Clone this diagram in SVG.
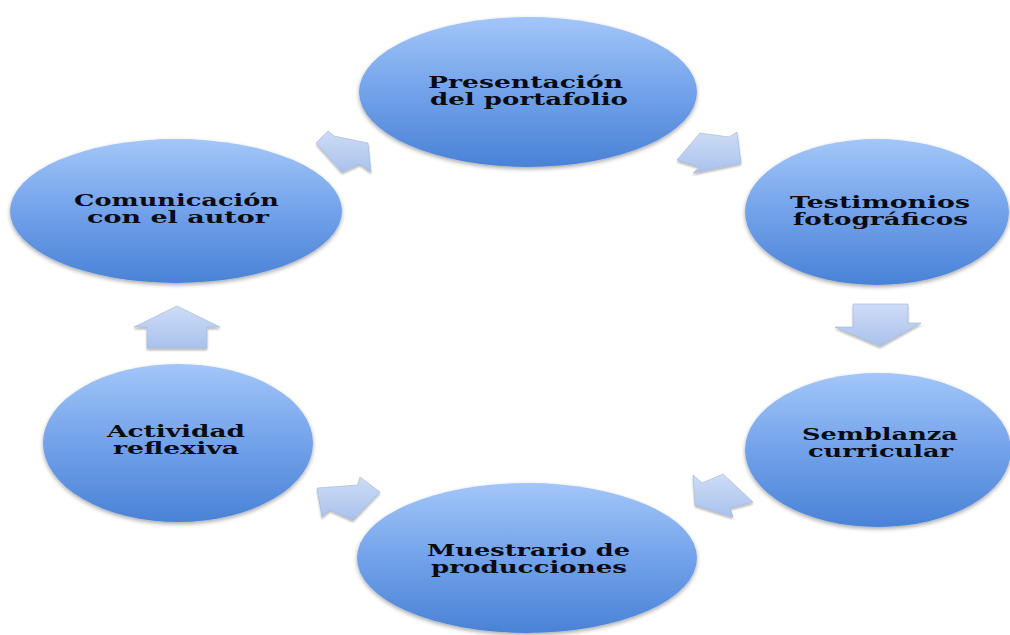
<svg xmlns="http://www.w3.org/2000/svg" width="1010" height="635" viewBox="0 0 1010 635">
<defs>
<linearGradient id="eg" x1="0" y1="0" x2="0" y2="1">
<stop offset="0" stop-color="#a3c6f8"/>
<stop offset="0.5" stop-color="#72a2ea"/>
<stop offset="1" stop-color="#4a82d6"/>
</linearGradient>
<linearGradient id="ag" x1="0" y1="0" x2="0" y2="1">
<stop offset="0" stop-color="#cddcf6"/>
<stop offset="1" stop-color="#a9c2ec"/>
</linearGradient>
<filter id="sh" x="-10%" y="-10%" width="120%" height="125%">
<feGaussianBlur in="SourceAlpha" stdDeviation="2"/>
<feOffset dy="2" result="b"/>
<feComponentTransfer><feFuncA type="linear" slope="0.35"/></feComponentTransfer>
<feMerge><feMergeNode/><feMergeNode in="SourceGraphic"/></feMerge>
</filter>
<filter id="ash" x="-20%" y="-20%" width="140%" height="150%">
<feGaussianBlur in="SourceAlpha" stdDeviation="1.2"/>
<feOffset dy="1.5"/>
<feComponentTransfer><feFuncA type="linear" slope="0.3"/></feComponentTransfer>
<feMerge><feMergeNode/><feMergeNode in="SourceGraphic"/></feMerge>
</filter>
</defs>
<style>
.node{fill:url(#eg);filter:url(#sh)}
.lbl{font-family:"DejaVu Serif","Liberation Serif",serif;font-weight:bold;font-size:17px;fill:#0b0b14}
.arr{fill:url(#ag);stroke:#9fb4da;stroke-width:0.6;filter:url(#ash)}
</style>
<rect width="1010" height="635" fill="#ffffff"/>
<g id="connectors">
<polygon class="arr" points="316,143 328,131 334,136 368,143 371,172 360,164 342,172"/>
<polygon class="arr" points="677,160 700,133 729,137 737,132 741,163 693,173 700,167"/>
<polygon class="arr" points="853,304 908,304 908,323 921,323 880,346 835,327 853,327"/>
<polygon class="arr" points="693,475 702,483 723,474 753,502 730,508 733,517 695,505"/>
<polygon class="arr" points="317,488 358,485 360,477 380,492 353,520 330,510 322,517"/>
<polygon class="arr" points="177,306 220,327 207,327 207,348 147,348 147,327 134,327"/>
</g>
<g id="n1">
<ellipse class="node" cx="528" cy="92" rx="169" ry="75"/>
<text class="lbl" x="428" y="88" textLength="195" lengthAdjust="spacingAndGlyphs">Presentación</text>
<text class="lbl" x="430" y="105" textLength="198" lengthAdjust="spacingAndGlyphs">del portafolio</text>
</g>
<g id="n2">
<ellipse class="node" cx="877" cy="212" rx="132" ry="73"/>
<text class="lbl" x="790" y="208" textLength="180" lengthAdjust="spacingAndGlyphs">Testimonios</text>
<text class="lbl" x="793" y="225" textLength="175" lengthAdjust="spacingAndGlyphs">fotográficos</text>
</g>
<g id="n3">
<ellipse class="node" cx="878" cy="450" rx="133" ry="77"/>
<text class="lbl" x="802" y="440" textLength="156" lengthAdjust="spacingAndGlyphs">Semblanza</text>
<text class="lbl" x="808" y="457" textLength="145" lengthAdjust="spacingAndGlyphs">curricular</text>
</g>
<g id="n4">
<ellipse class="node" cx="527" cy="558" rx="170" ry="75"/>
<text class="lbl" x="427" y="556" textLength="203" lengthAdjust="spacingAndGlyphs">Muestrario de</text>
<text class="lbl" x="431" y="573" textLength="196" lengthAdjust="spacingAndGlyphs">producciones</text>
</g>
<g id="n5">
<ellipse class="node" cx="178" cy="443" rx="135" ry="79"/>
<text class="lbl" x="107" y="437" textLength="138" lengthAdjust="spacingAndGlyphs">Actividad</text>
<text class="lbl" x="113" y="454" textLength="126" lengthAdjust="spacingAndGlyphs">reflexiva</text>
</g>
<g id="n6">
<ellipse class="node" cx="176" cy="211" rx="166" ry="72"/>
<text class="lbl" x="74" y="206" textLength="205" lengthAdjust="spacingAndGlyphs">Comunicación</text>
<text class="lbl" x="87" y="223" textLength="182" lengthAdjust="spacingAndGlyphs">con el autor</text>
</g>
</svg>
